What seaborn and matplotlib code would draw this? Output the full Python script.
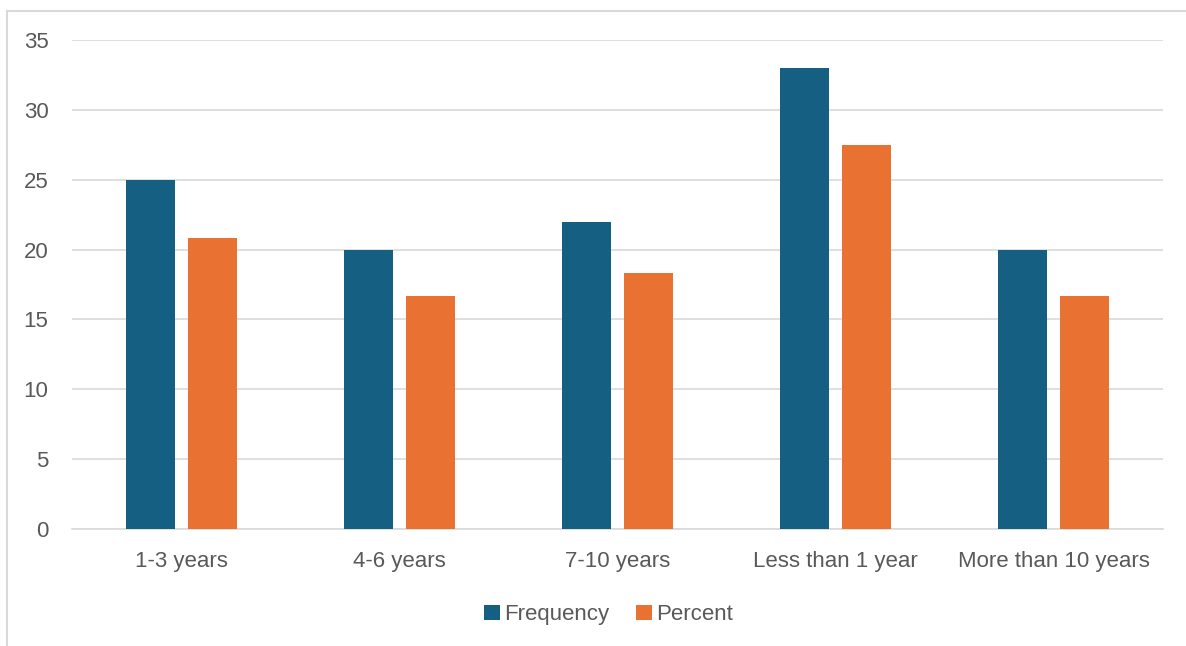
import pandas as pd
import matplotlib.pyplot as plt
import seaborn as sns
from matplotlib.patches import Rectangle

categories = ["1-3 years", "4-6 years", "7-10 years", "Less than 1 year", "More than 10 years"]
frequency = [25, 20, 22, 33, 20]
percent = [20.83, 16.67, 18.33, 27.5, 16.67]

df = pd.DataFrame({"category": categories * 2,
                   "value": frequency + percent,
                   "series": ["Frequency"] * 5 + ["Percent"] * 5})

sns.set_style("white")
plt.rcParams['font.family'] = ['Liberation Sans', 'DejaVu Sans']
grey = "#595959"

fig = plt.figure(figsize=(11.86, 6.46), dpi=100)
ax = fig.add_axes([72 / 1186, 117 / 646, 1091 / 1186, 489 / 646])

sns.barplot(data=df, x="category", y="value", hue="series",
            palette=["#156082", "#E97132"], width=0.568, gap=0.21,
            saturation=1, linewidth=0, ax=ax, zorder=3)

ax.set_ylim(0, 35)
ax.set_xlim(-0.5, 4.5)
ax.set_yticks(range(0, 36, 5))
ax.grid(axis="y", color="#D9D9D9", linewidth=1.2, zorder=0)
for s in ["top", "right", "left"]:
    ax.spines[s].set_visible(False)
ax.spines["bottom"].set_color("#D9D9D9")
ax.spines["bottom"].set_linewidth(1.2)
ax.tick_params(axis="y", length=0, pad=17, labelsize=16, labelcolor=grey)
ax.tick_params(axis="x", length=0, pad=16, labelsize=16, labelcolor=grey)
ax.set_xlabel("")
ax.set_ylabel("")

ax.legend(loc="center", bbox_to_anchor=(0.492, -0.175), ncol=2, frameon=False,
          fontsize=16, labelcolor=grey, handlelength=0.7, handleheight=0.7,
          handletextpad=0.2, columnspacing=1.2)

# outer chart frame (clipped on right and bottom)
fig.patches.append(Rectangle((7 / 1186, -0.1), 1.2, 0.1 + (646 - 11) / 646,
                             transform=fig.transFigure, fill=False,
                             edgecolor="#D9D9D9", linewidth=1.5))

plt.savefig("out.png", dpi=100)
plt.close()
